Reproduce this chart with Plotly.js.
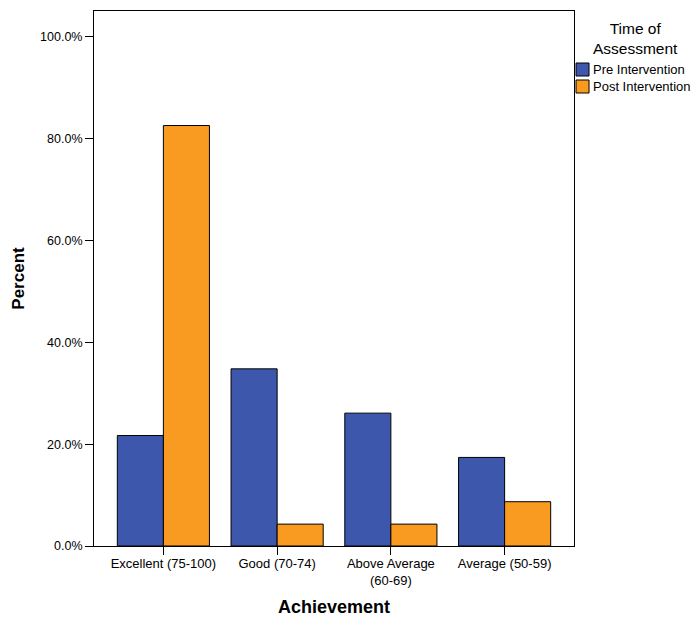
<!DOCTYPE html>
<html>
<head>
<meta charset="utf-8">
<script src="https://cdn.plot.ly/plotly-3.0.1.min.js"></script>
<style>html,body{margin:0;padding:0;background:#fff;}#chart{width:692px;height:617px;}</style>
</head>
<body>
<div id="chart"></div>
<script>
const categories = ["Excellent (75-100)", "Good (70-74)", "Above Average<br>(60-69)", "Average (50-59)"];
const preIntervention = [21.7, 34.8, 26.1, 17.4];
const postIntervention = [82.6, 4.3, 4.3, 8.7];
const seriesNames = ["Pre Intervention", "Post Intervention"];
const seriesColors = ["#3d57ac", "#f99b21"];
const legendTitle = "Time of<br>Assessment";

const traces = [
  {type: "bar", name: seriesNames[0], x: categories, y: preIntervention,
   marker: {color: seriesColors[0], line: {color: "#000", width: 1}}, hoverinfo: "none"},
  {type: "bar", name: seriesNames[1], x: categories, y: postIntervention,
   marker: {color: seriesColors[1], line: {color: "#000", width: 1}}, hoverinfo: "none"}
];

// custom legend placed right of the plot area (paper coordinates)
const shapes = [];
const annotations = [{
  xref: "paper", yref: "paper", x: 1.1271, y: 0.9486, xanchor: "center", yanchor: "middle",
  text: legendTitle, showarrow: false, font: {size: 15.5, color: "#000"}, align: "center"
}];
const swTop = [0.9028, 0.8710];
const swH = 0.0243;
seriesNames.forEach((n, i) => {
  shapes.push({type: "rect", xref: "paper", yref: "paper",
    x0: 1.0042, x1: 1.0313, y0: swTop[i] - swH, y1: swTop[i],
    fillcolor: seriesColors[i], line: {color: "#000", width: 1}});
  annotations.push({xref: "paper", yref: "paper", x: 1.0355, y: swTop[i] - swH / 2,
    xanchor: "left", yanchor: "middle", text: n, showarrow: false,
    font: {size: 13, color: "#000"}});
});

const layout = {
  width: 692, height: 617,
  margin: {l: 94, r: 118, t: 11, b: 71, autoexpand: false},
  paper_bgcolor: "#fff", plot_bgcolor: "#fff",
  font: {family: "Liberation Sans, Arial, sans-serif", size: 12, color: "#000"},
  barmode: "group", bargap: 0.19, bargroupgap: 0,
  showlegend: false,
  shapes: shapes,
  annotations: annotations,
  xaxis: {
    type: "category", range: [-0.61, 3.61], showline: true, linecolor: "#000", linewidth: 1, mirror: true,
    ticks: "outside", ticklen: 8, tickcolor: "#000", showgrid: false,
    ticklabelstandoff: -3,
    tickfont: {size: 13},
    title: {text: "<b>Achievement</b>", font: {size: 18}, standoff: 16}
  },
  yaxis: {
    range: [0, 105.1], dtick: 20, tick0: 0, tickformat: ".1f", ticksuffix: "%",
    showline: true, linecolor: "#000", linewidth: 1, mirror: true,
    ticks: "outside", ticklen: 8, tickcolor: "#000", showgrid: false, zeroline: false,
    tickfont: {size: 12.5},
    title: {text: "<b>Percent</b>", font: {size: 17}, standoff: 11}
  }
};

Plotly.newPlot("chart", traces, layout, {displayModeBar: false, staticPlot: true});
</script>
</body>
</html>
